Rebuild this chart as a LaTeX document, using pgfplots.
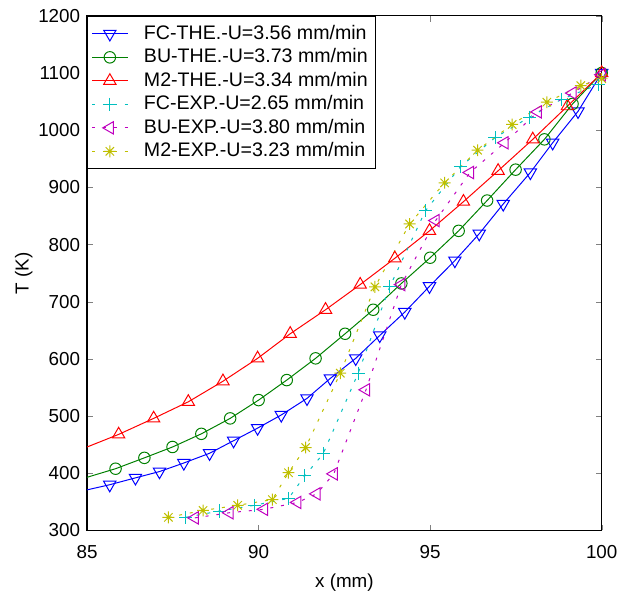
\documentclass[border=0pt]{standalone}
\usepackage{fontspec}
\setmainfont{Liberation Sans}
\usepackage{pgfplots}
\pgfplotsset{compat=1.18}

\definecolor{mblue}{rgb}{0,0,1}
\definecolor{mgreen}{rgb}{0,0.5,0}
\definecolor{mred}{rgb}{1,0,0}
\definecolor{mcyan}{rgb}{0,0.75,0.75}
\definecolor{mmag}{rgb}{0.75,0,0.75}
\definecolor{myel}{rgb}{0.75,0.75,0}

% matlab-style 8-arm star
\pgfdeclareplotmark{star8}{%
  \pgfpathmoveto{\pgfqpoint{-\pgfplotmarksize}{0pt}}\pgfpathlineto{\pgfqpoint{\pgfplotmarksize}{0pt}}%
  \pgfpathmoveto{\pgfqpoint{0pt}{-\pgfplotmarksize}}\pgfpathlineto{\pgfqpoint{0pt}{\pgfplotmarksize}}%
  \pgfpathmoveto{\pgfqpoint{-0.707\pgfplotmarksize}{-0.707\pgfplotmarksize}}\pgfpathlineto{\pgfqpoint{0.707\pgfplotmarksize}{0.707\pgfplotmarksize}}%
  \pgfpathmoveto{\pgfqpoint{-0.707\pgfplotmarksize}{0.707\pgfplotmarksize}}\pgfpathlineto{\pgfqpoint{0.707\pgfplotmarksize}{-0.707\pgfplotmarksize}}%
  \pgfusepathqstroke}

\begin{document}
\begin{tikzpicture}
\path (-44pt,-27pt) rectangle (268pt,268pt);
\begin{axis}[
    scale only axis,
    width=260pt, height=260pt,
    xmin=85, xmax=100,
    ymin=300, ymax=1200,
    xtick={85,90,95,100},
    ytick={300,400,...,1200},
    xlabel={x (mm)},
    ylabel={T (K)},
    font=\fontsize{9.5}{11}\selectfont,
    tick label style={font=\fontsize{9.5}{11}\selectfont},
    xticklabel style={yshift=-4pt},
    /pgf/number format/assume math mode=true,
    /pgf/number format/1000 sep={},
    tick align=inside,
    major tick length=3pt,
    axis line style={line width=0.6pt},
    xlabel style={yshift=-1pt},
    ylabel style={yshift=-4pt},
    legend style={at={(0,1)}, anchor=north west, draw=black, line width=0.5pt,
        font=\fontsize{9.9}{12}\selectfont, row sep=-0.8pt, column sep=6pt,
        inner xsep=2pt, inner ysep=2.5pt,
        cells={anchor=west}},
    legend cell align=left,
    legend image code/.code={%
        \draw[mark repeat=2,mark phase=2] plot coordinates {(0pt,0pt)(9pt,0pt)(18pt,0pt)};},
    every axis plot/.append style={line width=0.5pt},
]
\addplot[color=mblue, mark=triangle, mark size=3.6pt, mark options={rotate=180, solid}, mark indices={2,...,22},
    legend image post style={mark indices={2}}]
    coordinates {
    (85,371)(85.66,380)(86.41,392)(87.11,403)(87.82,418)(88.57,435)(89.27,457)
    (89.97,479)(90.66,502)(91.41,531)(92.09,566)(92.83,601)(93.53,641)
    (94.26,682)(94.98,727)(95.72,772)(96.43,819)(97.13,871)(97.92,926)
    (98.57,978)(99.31,1033)(100,1100)
    };
\addlegendentry{FC-THE.-U=3.56 mm/min}
\addplot[color=mgreen, mark=o, mark size=2.9pt, mark options={solid}, mark indices={2,...,20},
    legend image post style={mark indices={2}}]
    coordinates {
    (85,393)(85.83,408)(86.67,427)(87.49,446)(88.33,469)(89.17,496)(90.0,528)
    (90.82,563)(91.66,601)(92.52,644)(93.34,686)(94.16,732)(95.0,777)
    (95.83,824)(96.66,877)(97.49,931)(98.33,984)(99.15,1046)(100,1100)
    };
\addlegendentry{BU-THE.-U=3.73 mm/min}
\addplot[color=mred, mark=triangle, mark size=3.6pt, mark options={solid}, mark indices={2,...,17},
    legend image post style={mark indices={2}}]
    coordinates {
    (85,446)(85.92,468)(86.94,496)(87.95,525)(88.96,561)(89.97,601)(90.92,644)
    (91.95,686)(92.96,730)(93.97,776)(94.98,824)(95.97,875)(96.98,929)
    (97.99,984)(99.0,1042)(100,1100)
    };
\addlegendentry{M2-THE.-U=3.34 mm/min}
\addplot[color=mcyan, dash pattern=on 1.5pt off 4pt, mark=+, mark size=3.3pt, mark options={solid}]
    coordinates {
    (87.88,323)(88.86,334)(89.87,344)(90.87,356)(91.35,396)(91.88,434)
    (92.9,575)(93.82,726)(94.86,859)(95.88,936)(96.89,987)(97.9,1023)
    (98.83,1054)(99.9,1080)
    };
\addlegendentry{FC-EXP.-U=2.65 mm/min}
\addplot[color=mmag, dash pattern=on 1.5pt off 4pt, mark=triangle, mark size=3.6pt, mark options={rotate=90, solid}]
    coordinates {
    (88.14,322)(89.15,331)(90.16,337)(91.13,349)(91.69,364)(92.19,399)
    (93.13,546)(94.16,730)(95.16,842)(96.16,926)(97.17,978)(98.14,1032)
    (99.15,1065)(100,1097)
    };
\addlegendentry{BU-EXP.-U=3.80 mm/min}
\addplot[color=myel, dash pattern=on 1.5pt off 4pt, mark=star8, mark size=3pt, mark options={solid}]
    coordinates {
    (87.37,323)(88.38,335)(89.39,344)(90.40,354)(90.87,401)(91.37,445)
    (92.38,575)(93.39,726)(94.40,836)(95.42,908)(96.38,965)(97.39,1010)
    (98.4,1049)(99.39,1078)(100,1090)
    };
\addlegendentry{M2-EXP.-U=3.23 mm/min}
\end{axis}
\end{tikzpicture}
\end{document}
